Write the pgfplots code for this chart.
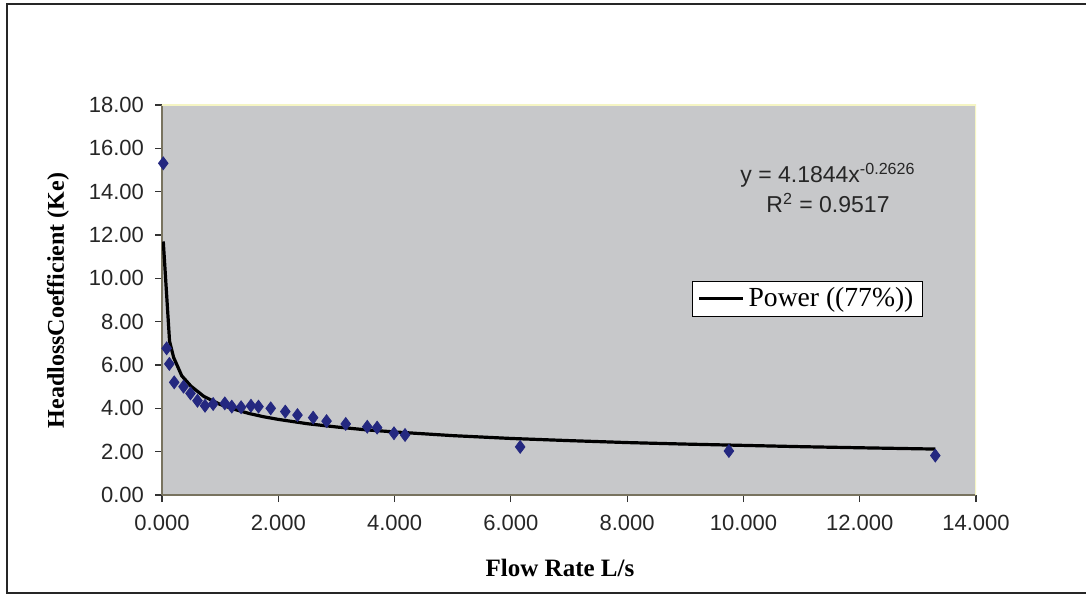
\documentclass[border=0pt]{standalone}
\usepackage{fontspec}
\setmainfont{Liberation Serif}
\newfontfamily\arial{Liberation Sans}
\usepackage{pgfplots}
\pgfplotsset{compat=1.18}
\definecolor{plotgray}{RGB}{199,200,202}
\definecolor{navy}{RGB}{36,40,128}
\definecolor{axisline}{RGB}{120,115,95}
\definecolor{edgeyellow}{RGB}{245,245,195}

\begin{document}
\begin{tikzpicture}
\useasboundingbox (0,0) rectangle (543pt,297pt);
% outer chart frame (right edge falls outside the picture)
\draw[line width=1.3pt, black!85] (546pt,295pt) -- (3.5pt,295pt) -- (3.5pt,0.6pt) -- (546pt,0.6pt);

\begin{axis}[
  at={(81pt,49.5pt)}, anchor=south west,
  scale only axis, width=407pt, height=195pt,
  xmin=0, xmax=14, ymin=0, ymax=18,
  xtick={0,2,...,14}, ytick={0,2,...,18},
  axis x line*=bottom, axis y line*=left,
  axis line style={-, axisline, line width=0.8pt},
  tick align=outside, major tick length=3.5pt,
  tick style={black!80, line width=0.6pt},
  axis background/.style={fill=plotgray},
  /pgf/number format/assume math mode=true,
  ticklabel style={font=\arial\fontsize{11}{13}\selectfont, text=black!85},
  xticklabel style={yshift=-3pt, /pgf/number format/.cd, fixed, fixed zerofill, precision=3},
  yticklabel style={xshift=-2pt, /pgf/number format/.cd, fixed, fixed zerofill, precision=2},
  legend style={at={(0.651,0.549)}, anchor=north west, draw=black, fill=white,
    line width=0.5pt, font=\fontsize{13.8}{15}\selectfont,
    inner xsep=2.5pt, inner ysep=1.2pt},
  legend cell align=left,
  legend image code/.code={\draw[#1] (0pt,0pt) -- (22pt,0pt);},
]
\draw[edgeyellow, line width=0.8pt] (rel axis cs:0,1) -- (rel axis cs:1,1) -- (rel axis cs:1,0);

% measured points
\addplot[only marks, mark=diamond*, mark size=3.2pt, color=navy, forget plot] coordinates {
  (0.022,15.31)(0.08,6.77)(0.126,6.05)(0.21,5.20)(0.37,5.00)(0.49,4.69)
  (0.61,4.35)(0.74,4.12)(0.88,4.20)(1.08,4.23)(1.20,4.08)(1.36,4.05)
  (1.53,4.12)(1.66,4.08)(1.87,4.00)(2.12,3.85)(2.33,3.69)(2.60,3.57)
  (2.83,3.41)(3.16,3.28)(3.53,3.15)(3.70,3.11)(3.99,2.85)(4.18,2.77)
  (6.16,2.22)(9.75,2.03)(13.30,1.82)
};

% power trendline
\addplot[black, line width=1.6pt, mark=none] coordinates {
  (0.022,11.70)(0.13,7.10)(0.20,6.35)(0.34,5.50)(0.50,5.02)(0.72,4.55)
  (1.00,4.18)(1.25,3.95)(1.50,3.76)(1.75,3.61)(2.00,3.49)(2.50,3.29)
  (3.00,3.14)(3.50,3.01)(4.00,2.91)(5.00,2.74)(6.00,2.61)(7.00,2.51)
  (8.00,2.42)(9.00,2.35)(10.00,2.29)(11.00,2.23)(12.00,2.18)(13.30,2.12)
};
\addlegendentry{Power ((77\%))}
\end{axis}

\node[anchor=base, font=\arial\fontsize{11.5}{13}\selectfont, text=black!85] at (414pt,205.5pt) {y = 4.1844x\textsuperscript{-0.2626}};
\node[anchor=base, font=\arial\fontsize{11.5}{13}\selectfont, text=black!85] at (414pt,190.5pt) {R\textsuperscript{2} = 0.9517};

\node[anchor=base, font=\bfseries\fontsize{12.5}{14}\selectfont] at (280pt,9pt) {Flow Rate L/s};
\node[anchor=base, rotate=90, font=\bfseries\fontsize{12}{14}\selectfont] at (32pt,146.75pt) {HeadlossCoefficient (Ke)};
\end{tikzpicture}
\end{document}
